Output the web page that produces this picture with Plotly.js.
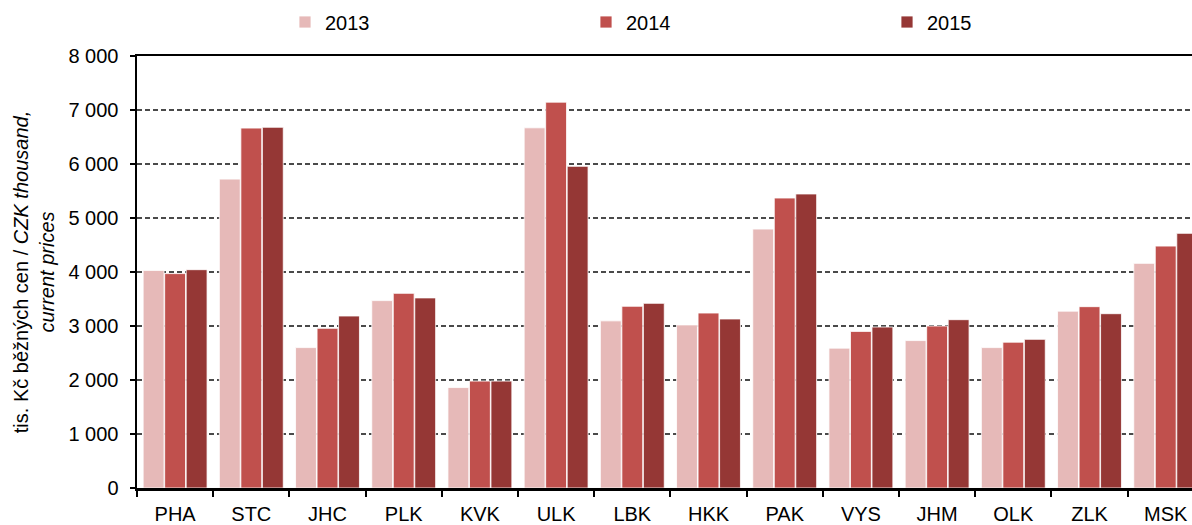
<!DOCTYPE html>
<html>
<head>
<meta charset="utf-8">
<script src="https://cdn.plot.ly/plotly-3.0.1.min.js"></script>
<style>html,body{margin:0;padding:0;background:#fff;overflow:hidden}</style>
</head>
<body>
<div id="chart" style="width:1192px;height:525px"></div>
<script>
const regions = ["PHA","STC","JHC","PLK","KVK","ULK","LBK","HKK","PAK","VYS","JHM","OLK","ZLK","MSK"];
const years = ["2013","2014","2015"];
const v2013 = [4030,5720,2600,3470,1860,6670,3095,3020,4795,2590,2730,2600,3275,4160];
const v2014 = [3970,6665,2957,3605,1980,7145,3365,3240,5370,2900,3000,2700,3358,4480];
const v2015 = [4043,6680,3185,3520,1980,5957,3420,3130,5445,2981,3117,2753,3228,4716];
const colors = ["#E6B9B8","#C0504D","#953735"];
const yTickVals = [0,1000,2000,3000,4000,5000,6000,7000,8000];

const series = [v2013, v2014, v2015];
const traces = series.map((vals, i) => ({
  type: "bar",
  name: years[i],
  x: regions,
  y: vals,
  marker: {color: colors[i], line: {color: "#ffffff", width: 0.8}},
  hoverinfo: "x+y+name"
}));

const font = "Liberation Sans, Arial, sans-serif";
const layout = {
  width: 1192,
  height: 525,
  margin: {l: 137, r: 0, t: 56, b: 37, pad: 0},
  paper_bgcolor: "#ffffff",
  plot_bgcolor: "#ffffff",
  separators: ". ",
  barmode: "group",
  bargap: 0.153,
  bargroupgap: 0.03,
  font: {family: font, size: 20, color: "#000"},
  showlegend: true,
  legend: {
    orientation: "h",
    xref: "container", yref: "container",
    x: 285/1192, y: 1 - 22/525,
    xanchor: "left", yanchor: "middle",
    entrywidth: 256, entrywidthmode: "pixels",
    font: {family: font, size: 20, color: "#000"},
    traceorder: "normal"
  },
  xaxis: {
    type: "category",
    range: [-0.5, 13.345],
    showline: true, linecolor: "#000", linewidth: 2.5, mirror: true,
    ticks: "outside", tickson: "boundaries", ticklen: 6, tickwidth: 2, tickcolor: "#000",
    showgrid: false,
    tickfont: {family: font, size: 20, color: "#000"},
    ticklabelstandoff: 6,
    fixedrange: true
  },
  yaxis: {
    range: [0, 8000],
    tickvals: yTickVals,
    tickformat: ",d",
    showline: true, linecolor: "#000", linewidth: 2.5,
    ticks: "outside", ticklen: 5, tickwidth: 2, tickcolor: "#000",
    showgrid: true, gridcolor: "#4a4a4a", gridwidth: 1.6, griddash: "5px,3px",
    zeroline: false,
    tickfont: {family: font, size: 20, color: "#000"},
    ticklabelstandoff: 7,
    title: {
      text: "tis. Kč běžných cen / <i>CZK thousand,</i><br><i>current prices</i>",
      font: {family: font, size: 20, color: "#000"},
      standoff: 9
    },
    fixedrange: true
  }
};

Plotly.newPlot("chart", traces, layout, {displayModeBar: false, staticPlot: true});
</script>
</body>
</html>
